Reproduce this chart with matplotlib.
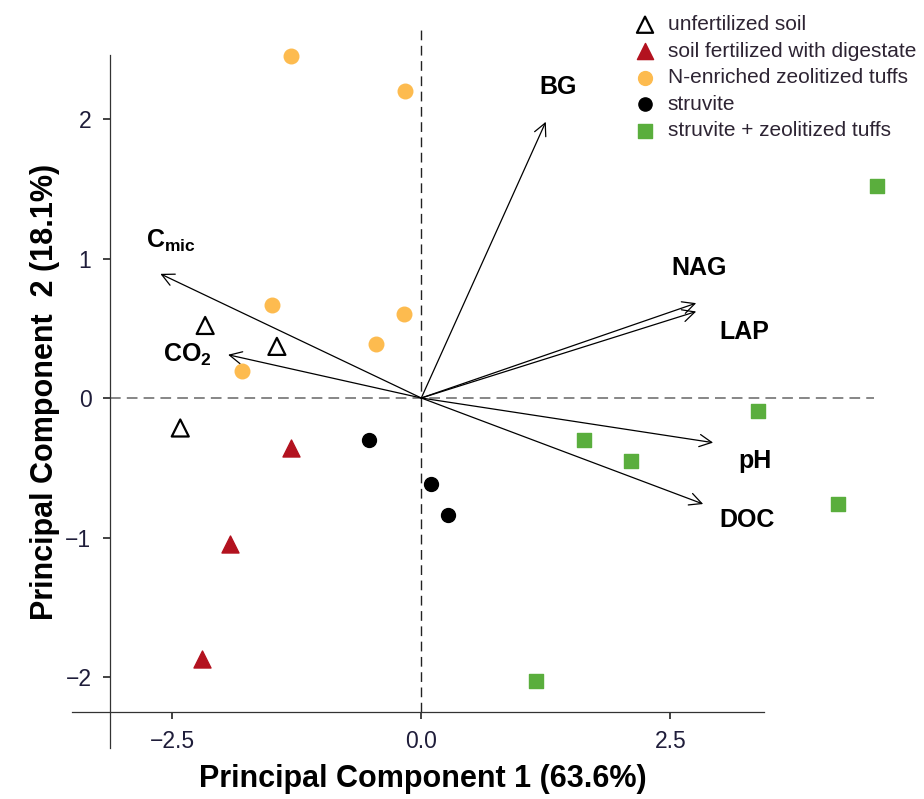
import numpy as np
import matplotlib
matplotlib.use("Agg")
import matplotlib.pyplot as plt

plt.rcParams['font.family'] = ['Liberation Sans', 'DejaVu Sans']
plt.rcParams['mathtext.fontset'] = 'custom'
plt.rcParams['mathtext.rm'] = 'Liberation Sans'
plt.rcParams['mathtext.bf'] = 'Liberation Sans:bold'

# sample scores (PC1, PC2)
unfert_x = [-2.17, -1.45, -2.42]
unfert_y = [0.52, 0.37, -0.215]
digest_x = [-1.31, -1.92, -2.20]
digest_y = [-0.36, -1.05, -1.87]
ntuff_x = [-1.31, -0.165, -1.50, -0.17, -0.45, -1.80]
ntuff_y = [2.45, 2.20, 0.67, 0.60, 0.39, 0.19]
struv_x = [-0.53, 0.10, 0.27]
struv_y = [-0.30, -0.62, -0.84]
stz_x = [4.58, 3.38, 1.63, 2.11, 4.18, 1.15]
stz_y = [1.52, -0.09, -0.30, -0.45, -0.76, -2.03]

# loadings (arrow tips)
var_names = ['BG', r'$\mathbf{C}_{\mathbf{mic}}$', r'$\mathbf{CO}_{\mathbf{2}}$', 'NAG', 'LAP', 'pH', 'DOC']
load_x = [1.25, -2.62, -1.94, 2.76, 2.76, 2.93, 2.83]
load_y = [1.98, 0.89, 0.31, 0.68, 0.62, -0.32, -0.76]
lab_x = [1.37, -2.51, -2.35, 2.79, 3.24, 3.35, 3.27]
lab_y = [2.18, 1.075, 0.26, 0.88, 0.42, -0.50, -0.925]

xticks = [-2.5, 0.0, 2.5]
yticks = [-2, -1, 0, 1, 2]

fig = plt.figure(figsize=(9.24, 7.99), dpi=100)
ax = fig.add_axes([0.05712, 0.04793, 0.92701, 0.92535])
ax.set_xlim(-3.7, 4.9)
ax.set_ylim(-2.6, 2.7)

# reference lines
ax.hlines(0, -3.13, 4.55, colors='#666666', lw=1.1, linestyles=(0, (7, 4)), zorder=1)
ax.vlines(0, -2.25, 2.64, colors='#222222', lw=1.0, linestyles=(0, (7, 4)), zorder=1)

red = '#b3121f'
orange = '#fdbb4f'
green = '#5aae3d'
ax.scatter(unfert_x, unfert_y, marker='^', s=150, facecolors='none', edgecolors='black',
           linewidths=1.6, label='unfertilized soil', zorder=3)
ax.scatter(digest_x, digest_y, marker='^', s=150, color=red, label='soil fertilized with digestate', zorder=3)
ax.scatter(ntuff_x, ntuff_y, marker='o', s=110, color=orange, label='N-enriched zeolitized tuffs', zorder=3)
ax.scatter(struv_x, struv_y, marker='o', s=100, color='black', label='struvite', zorder=3)
ax.scatter(stz_x, stz_y, marker='s', s=100, color=green, label='struvite + zeolitized tuffs', zorder=3)

for name, tx, ty, lx, ly in zip(var_names, load_x, load_y, lab_x, lab_y):
    ax.annotate('', xy=(tx, ty), xytext=(0, 0),
                arrowprops=dict(arrowstyle='->', lw=0.9, color='black',
                                mutation_scale=22, shrinkA=0, shrinkB=0), zorder=2)
    ax.text(lx, ly, name, ha='center', va='baseline', fontsize=18, fontweight='bold', color='black')

# axes look
for s in ['top', 'right']:
    ax.spines[s].set_visible(False)
ax.spines['left'].set_position(('data', -3.13))
ax.spines['left'].set_bounds(-2.51, 2.46)
ax.spines['bottom'].set_position(('data', -2.25))
ax.spines['bottom'].set_bounds(-3.51, 3.44)
for s in ['left', 'bottom']:
    ax.spines[s].set_color('#333333')
    ax.spines[s].set_linewidth(0.9)
ax.set_xticks(xticks)
ax.set_xticklabels(['\u22122.5', '0.0', '2.5'])
ax.set_yticks(yticks)
ax.set_yticklabels(['\u22122', '\u22121', '0', '1', '2'])
ax.tick_params(axis='both', length=5, width=1.2, color='#222222', pad=8,
               labelsize=16.5, labelcolor='#1f1d3a')

fig.text(0.458, 0.006, 'Principal Component 1 (63.6%)', ha='center', va='bottom',
         fontsize=22, fontweight='bold')
fig.text(0.049, 0.509, 'Principal Component  2 (18.1%)', ha='center', va='center',
         rotation=90, fontsize=22, fontweight='bold')

leg = ax.legend(loc='upper left', bbox_to_anchor=(0.6868, 0.981), bbox_transform=fig.transFigure,
                frameon=False, fontsize=15, borderpad=0, borderaxespad=0,
                handlelength=1.0, handletextpad=0.6, labelspacing=0.36, markerscale=0.95)
for t in leg.get_texts():
    t.set_color('#2d2433')

fig.savefig('out.png', dpi=100)
